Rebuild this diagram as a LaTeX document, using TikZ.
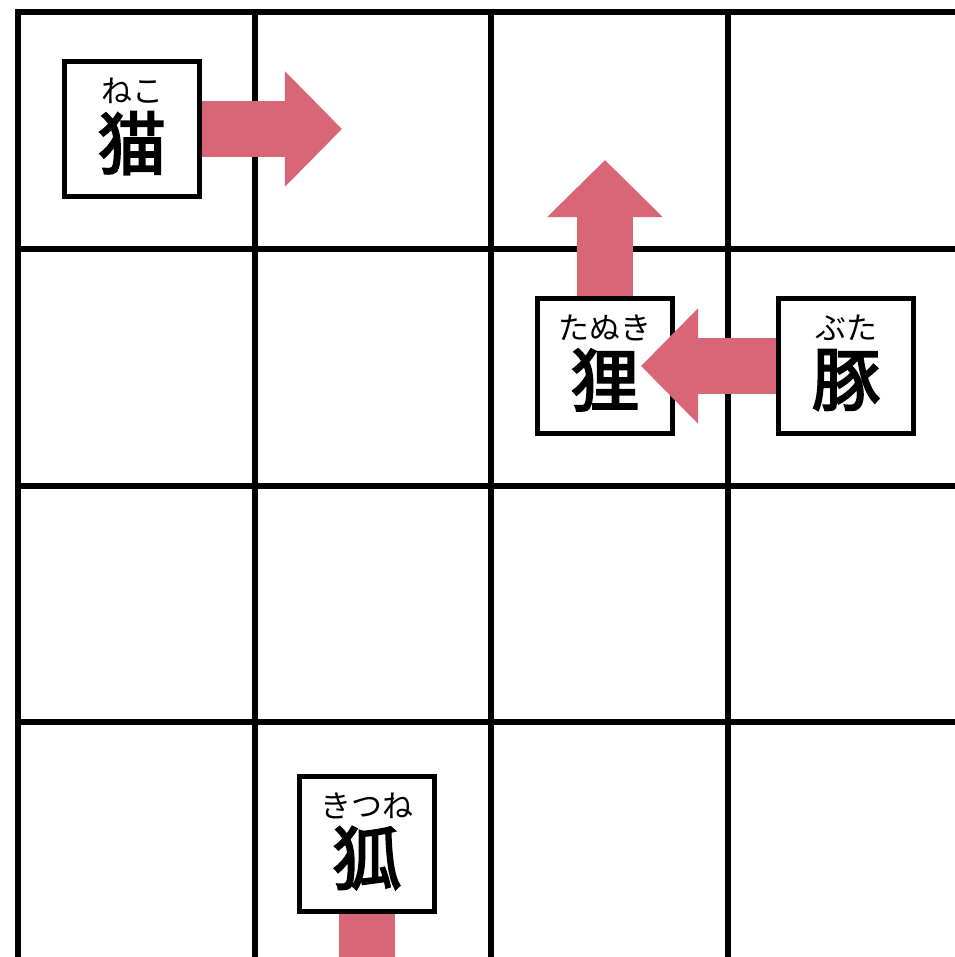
\documentclass[tikz,border=0pt]{standalone}
\usepackage{fontspec}
\setmainfont{Noto Sans CJK JP}
\newfontfamily\kanjifont[FakeBold=3]{Noto Sans CJK JP}
\usetikzlibrary{arrows.meta}
\tikzset{>=latex}
\definecolor{movepink}{HTML}{D96677}

\begin{document}
\begin{tikzpicture}[x=0.01cm,y=-0.01cm,
    grid/.style={line width=0.6mm,line cap=rect},
    animal/.style={draw,line width=0.45mm,fill=white,minimum size=1.35cm,inner sep=0pt},
    kana/.style={inner sep=0pt,font=\fontsize{8.8}{10}\selectfont},
    kanji/.style={inner sep=0pt,font=\fontsize{19.5}{22}\kanjifont},
    move/.style={draw=movepink,line width=5.5mm,-{Triangle[length=5.7mm,width=11.2mm]}}]
  \useasboundingbox (0,0) rectangle (955,957);
  \clip (0,0) rectangle (955,957);
  % board
  \foreach \x in {18,255,491,728}
    \draw[grid] (\x,12) -- (\x,1000);
  \foreach \y in {12,249,486,722}
    \draw[grid] (18,\y) -- (1000,\y);
  % animals
  \foreach \name/\x/\y/\yomi/\kan in {cat/132/129/ねこ/猫, tanuki/605/366/たぬき/狸,
      pig/846/366/ぶた/豚, fox/367/844/きつね/狐} {
    \node[animal] (\name) at (\x,\y) {};
    \node[kana] (\name-kana) at (\x,\y-38) {\yomi};
    \node[kanji] (\name-kanji) at (\x,\y+14) {\kan};
  }
  % moves
  \coordinate (cat-to) at (342,129);
  \coordinate (tanuki-to) at (605,160);
  \coordinate (fox-to) at (367,1060);
  \draw[move] (cat.east) -- (cat-to);
  \draw[move] (tanuki.north) -- (tanuki-to);
  \draw[move,shorten >=3.6mm] (pig.west) -- (tanuki.center);
  \draw[move] (fox.south) -- (fox-to);
\end{tikzpicture}
\end{document}
